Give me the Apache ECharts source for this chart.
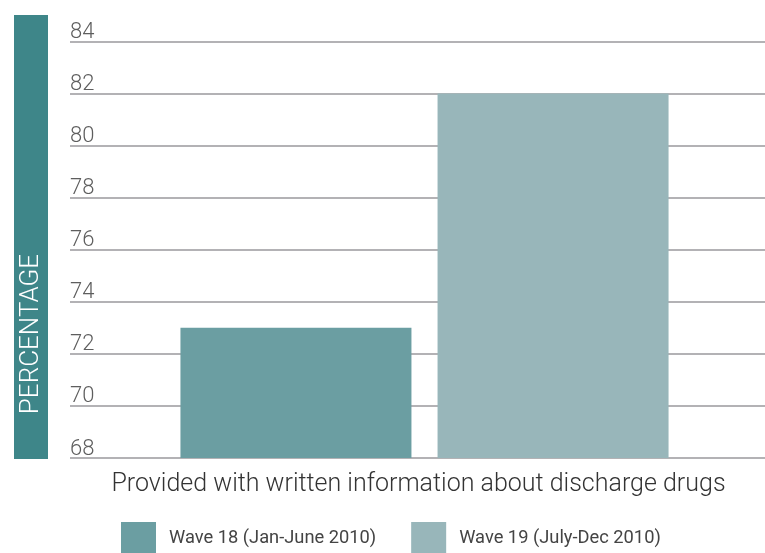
<!DOCTYPE html>
<html>
<head>
<meta charset="utf-8">
<script src="https://cdn.jsdelivr.net/npm/echarts@6/dist/echarts.min.js"></script>
<style>
  html, body { margin: 0; padding: 0; background: #ffffff; }
  #chart { width: 765px; height: 553px; }
</style>
</head>
<body>
<div id="chart"></div>
<script>
// Share of patients provided with written information about discharge drugs
const categories = ['Provided with written information about discharge drugs'];
const seriesNames = ['Wave 18 (Jan-June 2010)', 'Wave 19 (July-Dec 2010)'];
const wave18 = [73];
const wave19 = [82];
const yTicks = [68, 70, 72, 74, 76, 78, 80, 82, 84];

const colors = ['#6b9ea2', '#98b6ba'];
const lightFont = 'Roboto, "Liberation Sans", sans-serif';

const chart = echarts.init(document.getElementById('chart'), null, { renderer: 'canvas' });

chart.setOption({
  animation: false,
  backgroundColor: '#ffffff',
  color: colors,
  grid: {
    left: 70, top: 41.5, width: 709, height: 416.5,
    containLabel: false,
    outerBoundsMode: 'none'
  },
  graphic: [
    {
      type: 'rect',
      shape: { x: 14, y: 15, width: 34, height: 444 },
      style: { fill: '#3e8689' },
      silent: true
    },
    {
      type: 'text',
      x: 31,
      y: 334,
      rotation: Math.PI / 2,
      style: {
        text: 'PERCENTAGE',
        fill: '#ffffff',
        font: '300 26px ' + lightFont,
        align: 'center',
        verticalAlign: 'middle'
      },
      silent: true
    }
  ],
  legend: {
    left: 121,
    top: 522,
    padding: 0,
    itemWidth: 35,
    itemHeight: 32,
    itemGap: 35,
    icon: 'rect',
    data: seriesNames,
    textStyle: {
      fontFamily: 'Roboto, sans-serif',
      fontSize: 18.3,
      color: '#444444',
      padding: [0, 0, 0, 8]
    }
  },
  xAxis: {
    type: 'category',
    data: categories,
    axisLine: { show: false },
    axisTick: { show: false },
    axisLabel: {
      margin: 14,
      fontFamily: lightFont,
      fontWeight: 300,
      fontSize: 25,
      color: '#333333',
      padding: [0, 12, 0, 0]
    }
  },
  yAxis: {
    type: 'value',
    min: yTicks[0],
    max: yTicks[yTicks.length - 1],
    interval: 2,
    axisLine: { show: false },
    axisTick: { show: false },
    splitLine: { show: true, lineStyle: { color: '#9a989d', width: 1.5 } },
    axisLabel: {
      inside: true,
      margin: 0,
      align: 'left',
      verticalAlign: 'bottom',
      lineHeight: 18,
      padding: 0,
      fontFamily: lightFont,
      fontWeight: 300,
      fontSize: 22,
      color: '#5e5e5e',
      showMinLabel: true,
      showMaxLabel: true
    }
  },
  series: [
    {
      name: seriesNames[0],
      type: 'bar',
      data: wave18,
      barWidth: 231,
      barGap: '11.3%',
      itemStyle: { color: colors[0] }
    },
    {
      name: seriesNames[1],
      type: 'bar',
      data: wave19,
      barWidth: 231,
      itemStyle: { color: colors[1] }
    }
  ]
});
</script>
</body>
</html>
